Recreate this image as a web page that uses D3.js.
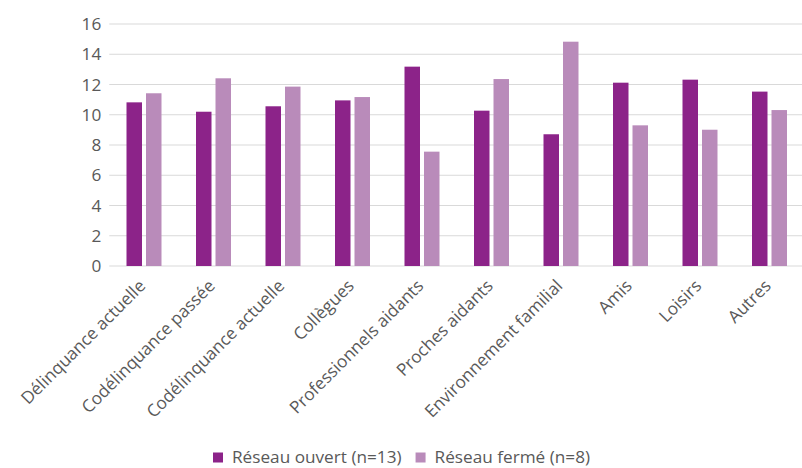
<!DOCTYPE html>
<html>
<head>
<meta charset="utf-8">
<script src="https://cdn.jsdelivr.net/npm/d3@7/dist/d3.min.js"></script>
<style>
  html, body { margin: 0; padding: 0; background: #fff; }
  svg { display: block; }
  text { font-family: "Open Sans", sans-serif; fill: #595959; }
</style>
</head>
<body>
<svg id="chart" width="802" height="468"></svg>
<script>
const categories = [
  "Délinquance actuelle", "Codélinquance passée", "Codélinquance actuelle",
  "Collègues", "Professionnels aidants", "Proches aidants",
  "Environnement familial", "Amis", "Loisirs", "Autres"
];
const ouvert = [10.82, 10.2, 10.56, 10.95, 13.18, 10.27, 8.71, 12.12, 12.32, 11.53];
const ferme  = [11.42, 12.41, 11.86, 11.17, 7.56, 12.36, 14.83, 9.30, 9.01, 10.31];
const seriesNames = ["Réseau ouvert (n=13)", "Réseau fermé (n=8)"];
const seriesColors = ["#8c2389", "#b98bba"];
const yTicks = [0, 2, 4, 6, 8, 10, 12, 14, 16];

const fontSize = "17.2px";
const svg = d3.select("#chart");
const plotLeft = 109.25, plotRight = 804.25, plotTop = 24, plotBottom = 266;

const x = d3.scaleBand().domain(categories).range([plotLeft, plotRight]).paddingInner(0).paddingOuter(0);
const y = d3.scaleLinear().domain([0, 16]).range([plotBottom, plotTop]);

// horizontal gridlines
svg.append("g")
  .selectAll("line").data(yTicks).join("line")
  .attr("x1", plotLeft).attr("x2", 802)
  .attr("y1", d => y(d)).attr("y2", d => y(d))
  .attr("stroke", "#d9d9d9").attr("stroke-width", 1.2);

// y axis labels
const yAxis = svg.append("g")
  .attr("transform", `translate(${plotLeft - 8},0)`)
  .call(d3.axisLeft(y).tickValues(yTicks).tickSize(0).tickPadding(0));
yAxis.select(".domain").remove();
yAxis.selectAll("text")
  .style("font-family", '"Open Sans", sans-serif')
  .style("font-size", fontSize).attr("fill", "#595959");

// bars
const barW = 15.5, gap = 4;
const data = categories.map((c, i) => ({ c, vals: [ouvert[i], ferme[i]] }));
const groups = svg.append("g").selectAll("g").data(data).join("g")
  .attr("transform", d => `translate(${x(d.c) + x.bandwidth() / 2},0)`);
groups.selectAll("rect").data(d => d.vals.map((v, k) => ({ v, k }))).join("rect")
  .attr("x", d => d.k === 0 ? -gap / 2 - barW : gap / 2)
  .attr("width", barW)
  .attr("y", d => y(d.v))
  .attr("height", d => y(0) - y(d.v))
  .attr("fill", d => seriesColors[d.k]);

// category labels, rotated
const xAxis = svg.append("g")
  .attr("transform", `translate(0,${plotBottom})`)
  .call(d3.axisBottom(x).tickSize(0).tickPadding(0));
xAxis.select(".domain").remove();
xAxis.selectAll("text")
  .style("font-family", '"Open Sans", sans-serif')
  .style("font-size", fontSize).attr("fill", "#595959")
  .attr("text-anchor", "end")
  .attr("dy", null).attr("y", 0)
  .attr("transform", "translate(2.5,21) rotate(-45)");

// legend
const legend = svg.append("g").attr("transform", "translate(213,456.5)");
let lx = 0;
seriesNames.forEach((name, k) => {
  const g = legend.append("g").attr("transform", `translate(${lx},0)`);
  g.append("rect").attr("x", 0).attr("y", -4).attr("width", 10).attr("height", 10).attr("fill", seriesColors[k]);
  const t = g.append("text").attr("x", 19).attr("y", 0).attr("dy", "0.35em")
    .style("font-size", fontSize).text(name);
  lx += 19 + t.node().getComputedTextLength() + 14;
});
</script>
</body>
</html>
